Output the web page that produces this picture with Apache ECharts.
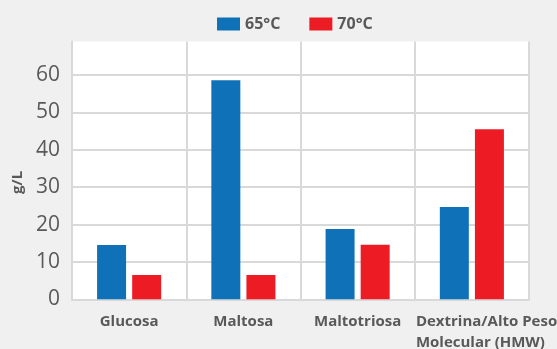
<!DOCTYPE html>
<html>
<head>
<meta charset="utf-8">
<script src="https://cdn.jsdelivr.net/npm/echarts@6/dist/echarts.min.js"></script>
<style>
  html, body { margin: 0; padding: 0; background: #f0f0f0; }
  #chart { width: 557px; height: 349px; }
</style>
</head>
<body>
<div id="chart"></div>
<script>
// Sugar profile (g/L) by mashing temperature
const categories = ['Glucosa', 'Maltosa', 'Maltotriosa', 'Dextrina/Alto Peso\nMolecular (HMW)'];
const seriesNames = ['65°C', '70°C'];
const values65 = [14.5, 58.6, 18.8, 24.7];
const values70 = [6.5, 6.5, 14.6, 45.5];
const yTicks = [0, 10, 20, 30, 40, 50, 60];

const textColor = '#595959';
const fontFamily = '"Open Sans", "Noto Sans", sans-serif';

const categoryData = categories.map(function (c) {
  if (c.indexOf('\n') < 0) return c;
  // two-line label, lines aligned on their left edge
  return {
    value: c,
    textStyle: {
      width: 112,
      overflow: 'none',
      align: 'center',
      rich: { l: { align: 'left', fontSize: 15, fontWeight: 'bold', color: textColor, fontFamily: fontFamily, lineHeight: 21 } }
    }
  };
});

const chart = echarts.init(document.getElementById('chart'), null, { renderer: 'canvas' });
chart.setOption({
  backgroundColor: '#f0f0f0',
  animation: false,
  legend: {
    data: seriesNames,
    left: 212,
    top: 11,
    padding: 5,
    itemWidth: 23,
    itemHeight: 13,
    itemGap: 29,
    icon: 'rect',
    textStyle: { color: textColor, fontSize: 16, fontWeight: 'bold', fontFamily: fontFamily }
  },
  grid: {
    left: 72, right: 28, top: 41.5, bottom: 49.7,
    show: true, backgroundColor: '#ffffff', borderWidth: 0,
    outerBoundsMode: 'none',
    containLabel: false
  },
  xAxis: {
    type: 'category',
    data: categoryData,
    axisLine: { show: true, lineStyle: { color: '#d9d9d9', width: 2 } },
    axisTick: { show: false },
    splitLine: { show: true, lineStyle: { color: '#d9d9d9', width: 2 } },
    axisLabel: {
      interval: 0,
      margin: 12,
      color: textColor,
      fontSize: 15,
      fontWeight: 'bold',
      fontFamily: fontFamily,
      lineHeight: 21,
      formatter: function (v) {
        if (v.indexOf('\n') < 0) return v;
        return v.split('\n').map(function (s) { return '{l|' + s + '}'; }).join('\n');
      }
    }
  },
  yAxis: {
    type: 'value',
    min: yTicks[0],
    max: 69,
    interval: 10,
    name: 'g/L',
    nameLocation: 'middle',
    nameGap: 46,
    nameRotate: 90,
    nameTextStyle: { color: textColor, fontSize: 15, fontWeight: 'bold', fontFamily: fontFamily, padding: [0, 24, 0, 0] },
    axisLine: { show: true, lineStyle: { color: '#d9d9d9', width: 2 } },
    axisTick: { show: false },
    splitLine: { show: true, showMaxLine: false, lineStyle: { color: '#d9d9d9', width: 2 } },
    axisLabel: {
      margin: 12,
      color: textColor,
      fontSize: 21,
      fontFamily: fontFamily,
      showMaxLabel: false,
      formatter: function (v) { return yTicks.indexOf(v) >= 0 ? String(v) : ''; }
    }
  },
  series: [
    {
      name: seriesNames[0], type: 'bar', data: values65,
      barWidth: 29, barGap: '21%',
      itemStyle: { color: '#0f72b9' }
    },
    {
      name: seriesNames[1], type: 'bar', data: values70,
      barWidth: 29, barGap: '21%',
      itemStyle: { color: '#ed1c24' }
    }
  ]
});
</script>
</body>
</html>
